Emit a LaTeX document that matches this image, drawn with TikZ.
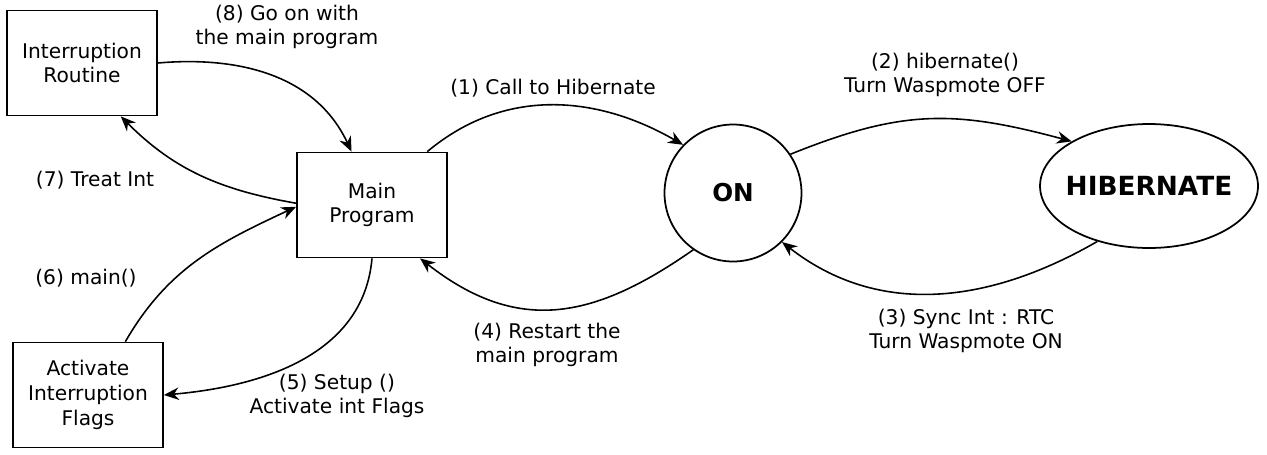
\documentclass[tikz,border=0pt]{standalone}
\usepackage{fontspec}
\setmainfont{DejaVu Sans}
\usetikzlibrary{shapes.geometric,arrows.meta}

\begin{document}
\begin{tikzpicture}[
    x=0.02cm, y=-0.02cm,
    box/.style={rectangle, draw, line width=1pt, minimum width=3.0cm, minimum height=2.1cm, align=center, font=\fontsize{11.5pt}{14pt}\selectfont},
    state/.style={draw, line width=1pt, font=\fontsize{14pt}{16pt}\selectfont\bfseries},
    note/.style={align=center, font=\fontsize{11.5pt}{13.5pt}\selectfont},
    arrow/.style={-{Stealth[length=3mm, width=2.5mm]}, line width=0.9pt},
]
\useasboundingbox (0,0) rectangle (1267,454);

% ====== Boxes ======
\node[box] (irq) at (82,63) {Interruption\\Routine};
\node[box] (main) at (372,205) {Main\\Program};
\node[box] (flags) at (88,395) {Activate\\Interruption\\Flags};

% ====== States ======
\node[state, circle, minimum size=2.74cm] (on) at (733,193) {ON};
\node[state, ellipse, inner xsep=-0.15cm, minimum width=4.36cm, minimum height=2.48cm, font=\fontsize{15pt}{17pt}\selectfont\bfseries] (hib) at (1149,186) {HIBERNATE};

% ====== Labels ======
\node[note] (lbleight) at (287,27) {(8) Go on with\\the main program};
\node[note] (lblseven) at (95,180) {(7) Treat Int};
\node[note] (lblsix) at (86,278) {(6) main()};
\node[note] (lblfive) at (337,396) {(5) Setup ()\\Activate int Flags};
\node[note] (lblone) at (553,88) {(1) Call to Hibernate};
\node[note] (lblfour) at (547,345) {(4) Restart the\\main program};
\node[note] (lbltwo) at (945,75) {(2) hibernate()\\Turn Waspmote OFF};
\node[note] (lblthree) at (966,331) {(3) Sync Int : RTC\\Turn Waspmote ON};

% ====== Transitions ======
\draw[arrow] (irq.east) to[out=5, in=115] (main.111);
\draw[arrow] ([yshift=1pt]main.west) to[out=170, in=-45] (irq.-54);
\draw[arrow] (flags.55) to[out=60, in=205] ([yshift=-1pt]main.west);
\draw[arrow] (main.south) to[out=-95, in=5] (flags.east);
\draw[arrow] (main.44) to[out=40, in=150] (on.136);
\draw[arrow] (on.-125) to[out=-145, in=-38, looseness=1.15] (main.-48);
\draw[arrow] (on.34) to[out=22, in=165, looseness=1.1] (hib.150);
\draw[arrow] (hib.-133) to[out=-150, in=-38] (on.-45);

\end{tikzpicture}
\end{document}
